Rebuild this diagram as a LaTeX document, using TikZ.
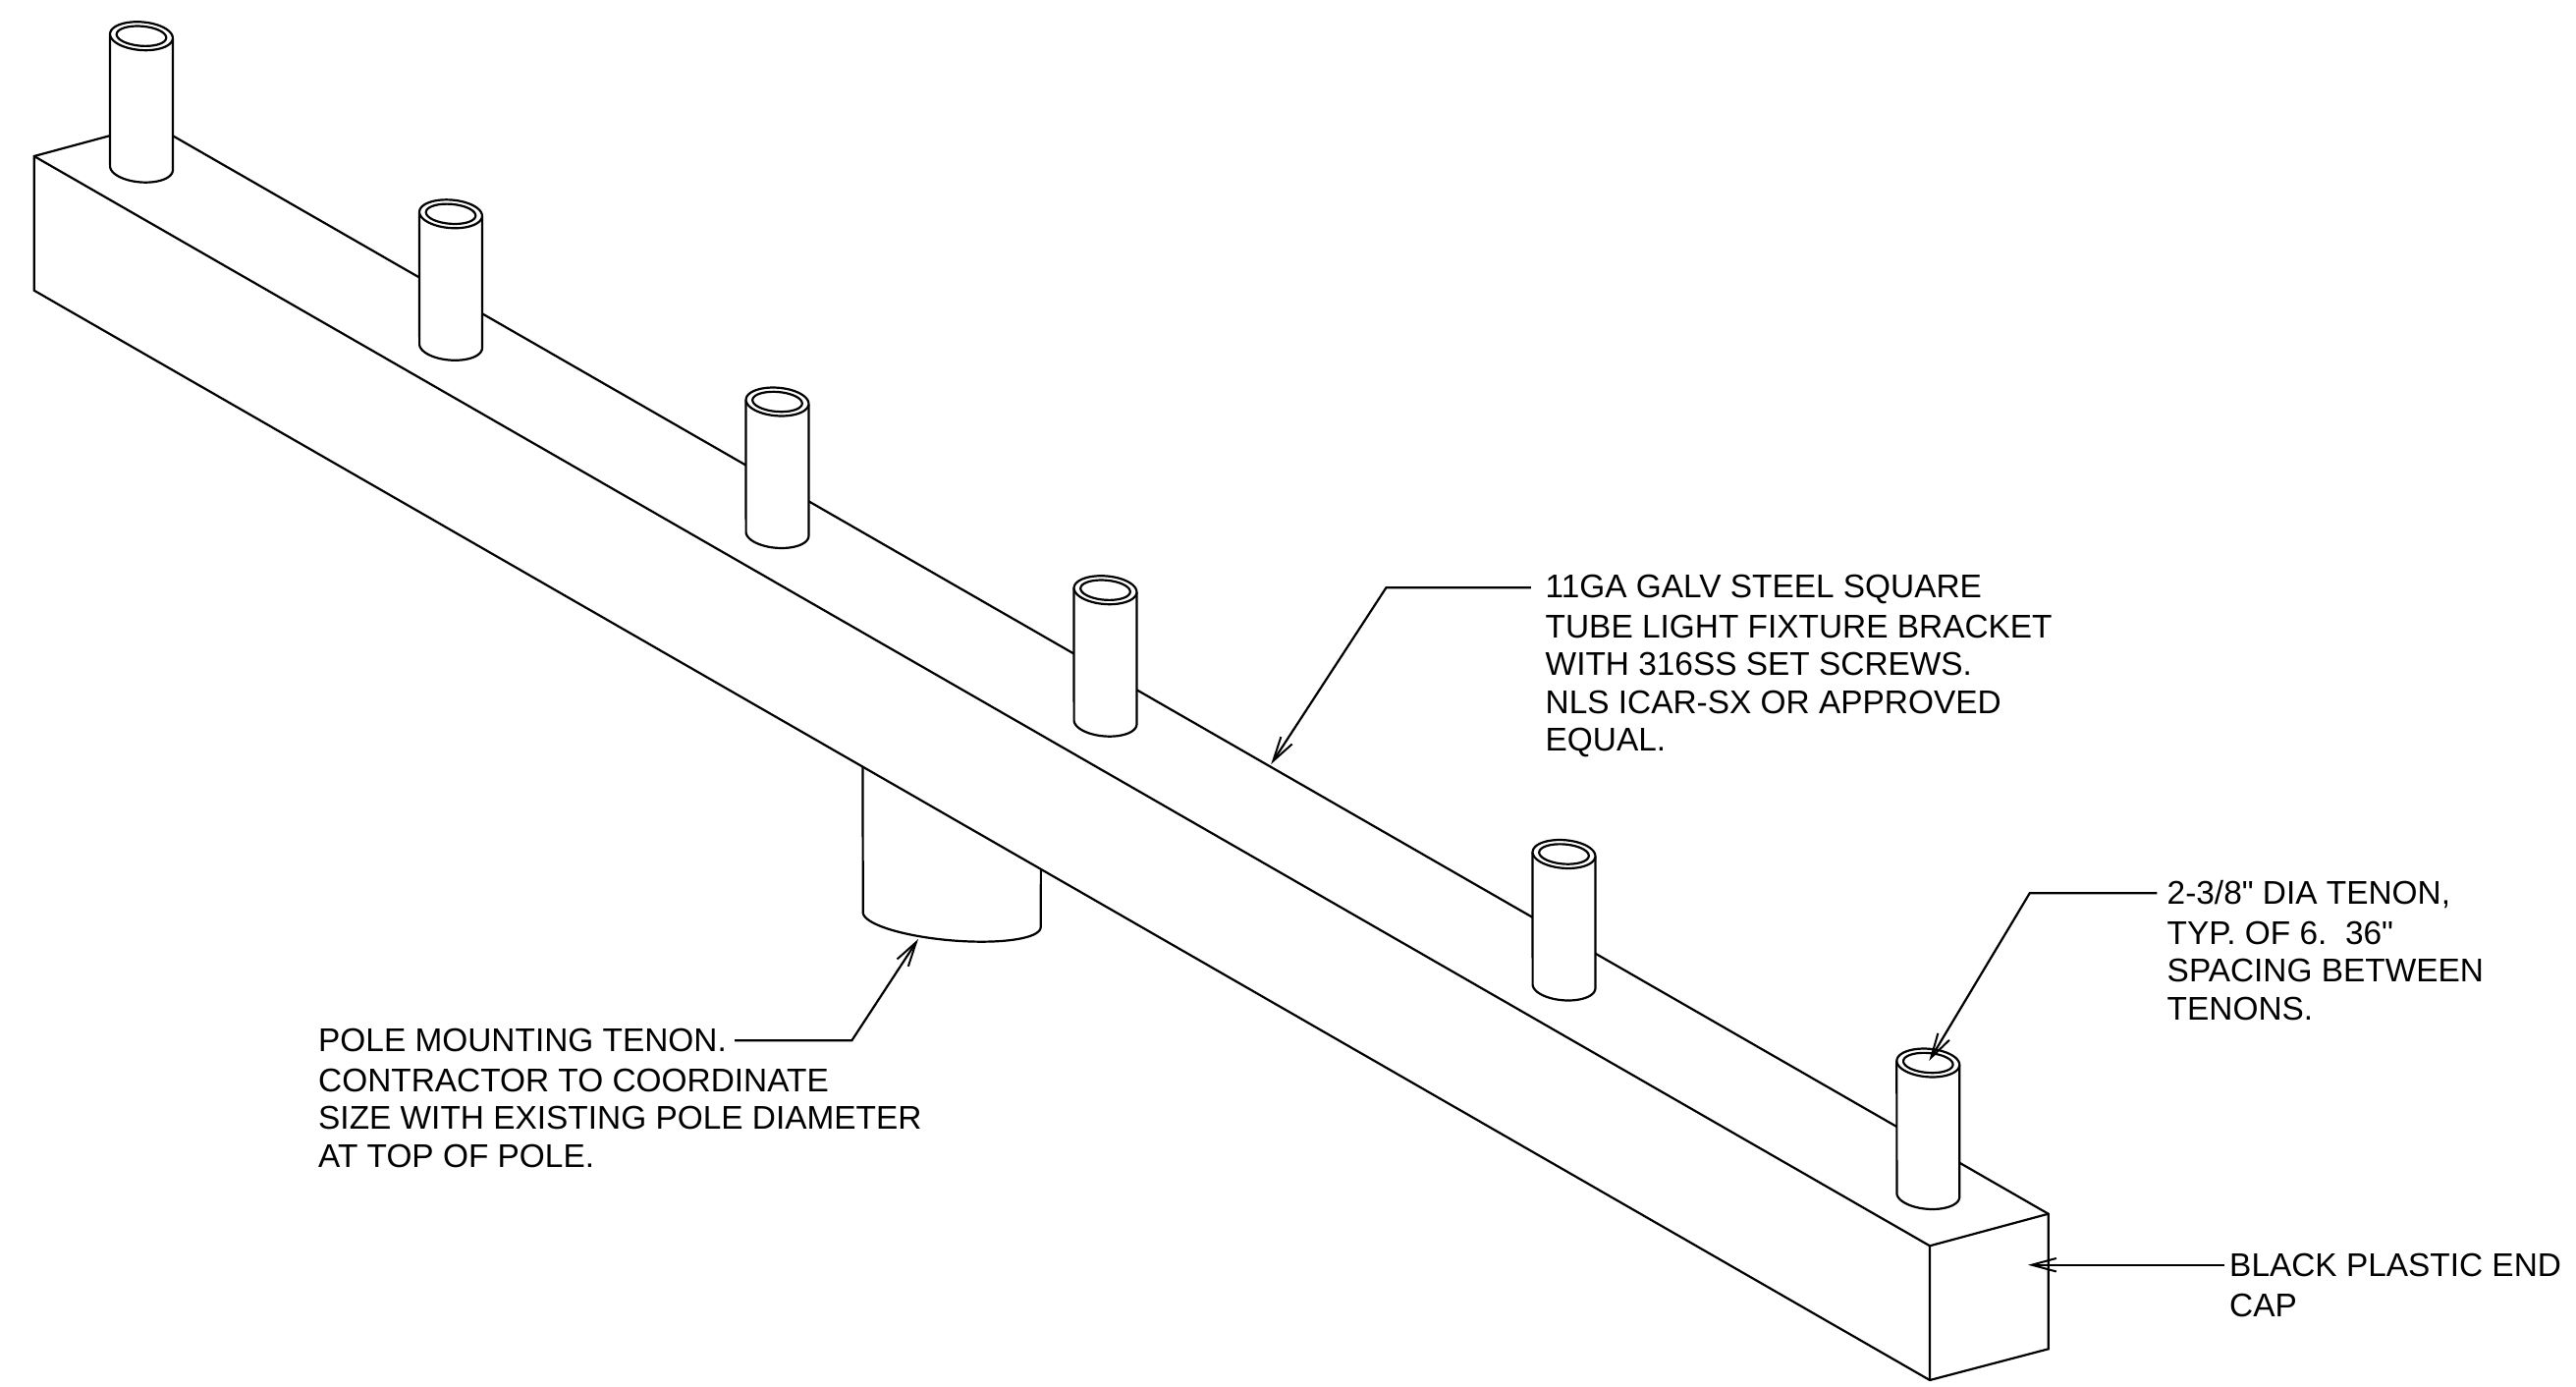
\documentclass[tikz,border=0pt]{standalone}
\usepackage{fontspec}
\setmainfont{Liberation Sans}[Ligatures=TeXOff]
\usetikzlibrary{arrows.meta}
\tikzset{
  beamline/.style={line width=2.2pt,line join=miter,fill=white},
  tenonline/.style={line width=2.2pt,line join=round,fill=white},
  leader/.style={line width=2.2pt,-{Straight Barb[length=25pt,width=13.5pt,line width=2pt]}},
  note/.style={anchor=north west,inner sep=0pt,align=left,font=\fontsize{33.4}{38.4}\selectfont}
}
\newcommand{\tenon}[2]{%
  \draw[tenonline] ({#1-32},{#2-2.5}) -- plot[domain=180:0,samples=49,smooth] ({#1+32*cos(\x)*0.9969-14.3*sin(\x)*0.0785},{#2+134.5+32*cos(\x)*0.0785+14.3*sin(\x)*0.9969}) -- ({#1+32},{#2+2.5});
  \draw[tenonline] plot[domain=0:360,samples=73,smooth cycle] ({#1+32*cos(\x)*0.9969-14.3*sin(\x)*0.0785},{#2+32*cos(\x)*0.0785+14.3*sin(\x)*0.9969});
  \draw[tenonline] plot[domain=0:360,samples=73,smooth cycle] ({#1+25.3*cos(\x)*0.9969-10*sin(\x)*0.0785},{#2+25.3*cos(\x)*0.0785+10*sin(\x)*0.9969});
}
\begin{document}
\begin{tikzpicture}[x=1pt,y=-1pt]
\useasboundingbox (0,0) rectangle (2623,1411);
\fill[white] (0,0) rectangle (2623,1411);
% pole mounting tenon
\draw[tenonline] (878.4,760) -- plot[domain=180:0,samples=49,smooth] ({969.2+90.8*cos(\x)*0.9962-21*sin(\x)*0.0872},{936.3+90.8*cos(\x)*0.0872+21*sin(\x)*0.9962}) -- (1060,860);
% beam
\coordinate (A) at (34.7,159);
\coordinate (B) at (34.7,295.7);
\coordinate (C) at (1965,1405);
\coordinate (D) at (1965,1268.3);
\coordinate (E) at (2085.7,1235.7);
\coordinate (F) at (2085.7,1373.3);
\coordinate (G) at (155.4,126.4);
\draw[beamline] (G) -- (A) -- (B) -- (C) -- (F) -- (E) -- cycle;
\draw[beamline,fill=none] (A) -- (D) -- (C);
\draw[beamline,fill=none] (D) -- (E);
% tenons
\tenon{144}{36.7}
\tenon{459}{217.8}
\tenon{791.5}{409}
\tenon{1125.5}{600.7}
\tenon{1592.5}{869.5}
\tenon{1963.3}{1082}
% notes
\node[note] (n1) at (1573.5,585) {11GA GALV STEEL SQUARE\\[2.3pt]TUBE LIGHT FIXTURE BRACKET\\WITH 316SS SET SCREWS.\\NLS ICAR-SX OR APPROVED\\EQUAL.};
\node[note] (n2) at (2206.5,896.3) {2-3/8" DIA TENON,\\[2.3pt]TYP. OF 6.\ \ 36"\\SPACING BETWEEN\\TENONS.};
\node[note] (n3) at (2270,1276.3) {BLACK PLASTIC END\\[2.3pt]CAP};
\node[note] (n4) at (324,1047.3) {POLE MOUNTING TENON.\\[2.3pt]CONTRACTOR TO COORDINATE\\SIZE WITH EXISTING POLE DIAMETER\\AT TOP OF POLE.};
% leaders
\coordinate (s1) at (1558.8,598.3);
\coordinate (e1) at (1411.4,598.3);
\coordinate (t1) at (1294.2,778);
\draw[leader] (s1) -- (e1) -- (t1);
\coordinate (s2) at (2196.3,909.3);
\coordinate (e2) at (2066.7,909.3);
\coordinate (t2) at (1964.3,1080);
\draw[leader] (s2) -- (e2) -- (t2);
\coordinate (s3) at (2265,1287.7);
\coordinate (t3) at (2065,1287.7);
\draw[leader] (s3) -- (t3);
\coordinate (s4) at (748,1059.3);
\coordinate (e4) at (867.3,1059.3);
\coordinate (t4) at (935,956);
\draw[leader] (s4) -- (e4) -- (t4);
\end{tikzpicture}
\end{document}
